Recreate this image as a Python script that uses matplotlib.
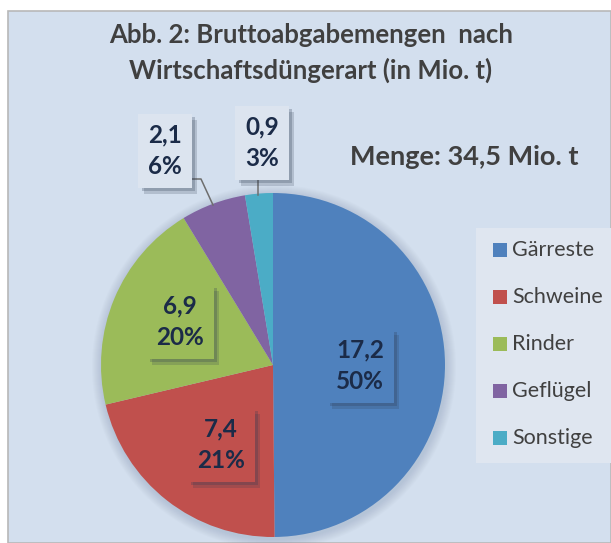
import numpy as np
import matplotlib.pyplot as plt
import matplotlib.patheffects as pe
from matplotlib.patches import Rectangle, Circle

categories = ["Gärreste", "Schweine", "Rinder", "Geflügel", "Sonstige"]
values = [17.2, 7.4, 6.9, 2.1, 0.9]
percent_labels = ["50%", "21%", "20%", "6%", "3%"]
value_labels = ["17,2", "7,4", "6,9", "2,1", "0,9"]
colors = ["#4F81BD", "#C0504D", "#9BBB59", "#8064A2", "#4BACC6"]

W, H = 611, 543
plt.rcParams['font.family'] = ['Lato', 'DejaVu Sans']

fig = plt.figure(figsize=(W / 100, H / 100), dpi=100)
fig.patch.set_facecolor("white")
ax = fig.add_axes([0, 0, 1, 1])

def py(y):
    # pixel row (from top) -> data y
    return H - y

cx, cy, r = 273, py(365), 172

wedges, _ = ax.pie(values, colors=colors, startangle=90, counterclock=False,
                   center=(cx, cy), radius=r, frame=True,
                   wedgeprops=dict(edgecolor="none"))
for w in wedges:
    w.set_zorder(2)
ax.set_xlim(0, W)
ax.set_ylim(0, H)
ax.set_aspect("equal")
ax.axis("off")

# chart area with border
ax.add_patch(Rectangle((8, 0), W - 8, py(11), facecolor="#D3DFEE",
                       edgecolor="#B8B8B8", lw=1.2, zorder=0))

# soft shadow round the pie
for i in range(10):
    ax.add_patch(Circle((cx + 1, cy - 2), r + 10 - i, facecolor="#7F93AE",
                        alpha=0.035, edgecolor="none", zorder=1))

# label centres (pixels, from top) and box fills
label_pos = [(360, 366), (221, 445), (180, 322), (165, 151), (262, 143)]
box_fill = [colors[0], colors[1], colors[2], "#DCE4EF", "#DCE4EF"]

for i, (x, y) in enumerate(label_pos):
    txt = f"{value_labels[i]}\n{percent_labels[i]}"
    t = ax.text(x, py(y), txt, ha="center", va="center", fontsize=17.5,
                fontweight="bold", color="#1B2B48", linespacing=1.45,
                bbox=dict(boxstyle="square,pad=0.4", facecolor=box_fill[i],
                          edgecolor="none"), zorder=5)
    t.get_bbox_patch().set_path_effects([
        pe.SimplePatchShadow(offset=(4, -4), shadow_rgbFace="#2E3B52", alpha=0.2),
        pe.SimplePatchShadow(offset=(2.5, -2.5), shadow_rgbFace="#2E3B52", alpha=0.25),
        pe.Normal()])

# leader lines
ax.plot([191, 201, 213], [py(179), py(179), py(205)], color="#6E6E6E", lw=1.1, zorder=3)
ax.plot([258, 258], [py(180), py(195)], color="#6E6E6E", lw=1.1, zorder=3)

# title
ax.text(311, py(35), "Abb. 2: Bruttoabgabemengen  nach", ha="center", va="center",
        fontsize=18.5, fontweight="bold", color="#404040")
ax.text(311, py(70), "Wirtschaftsdüngerart (in Mio. t)", ha="center", va="center",
        fontsize=18.5, fontweight="bold", color="#404040")
ax.text(464, py(157), "Menge: 34,5 Mio. t", ha="center", va="center",
        fontsize=19.5, fontweight="bold", color="#404040")

# legend
ax.add_patch(Rectangle((476, py(463)), W - 476, 463 - 228, facecolor="#DFE6F0",
                       edgecolor="none", zorder=2))
for i, name in enumerate(categories):
    ly = py(250 + i * 47)
    ax.add_patch(Rectangle((493, ly - 7), 14, 14, facecolor=colors[i],
                           edgecolor="none", zorder=3))
    ax.text(512, ly, name, ha="left", va="center", fontsize=15.5,
            color="#404040", zorder=3)

fig.savefig("out.png", dpi=100)
